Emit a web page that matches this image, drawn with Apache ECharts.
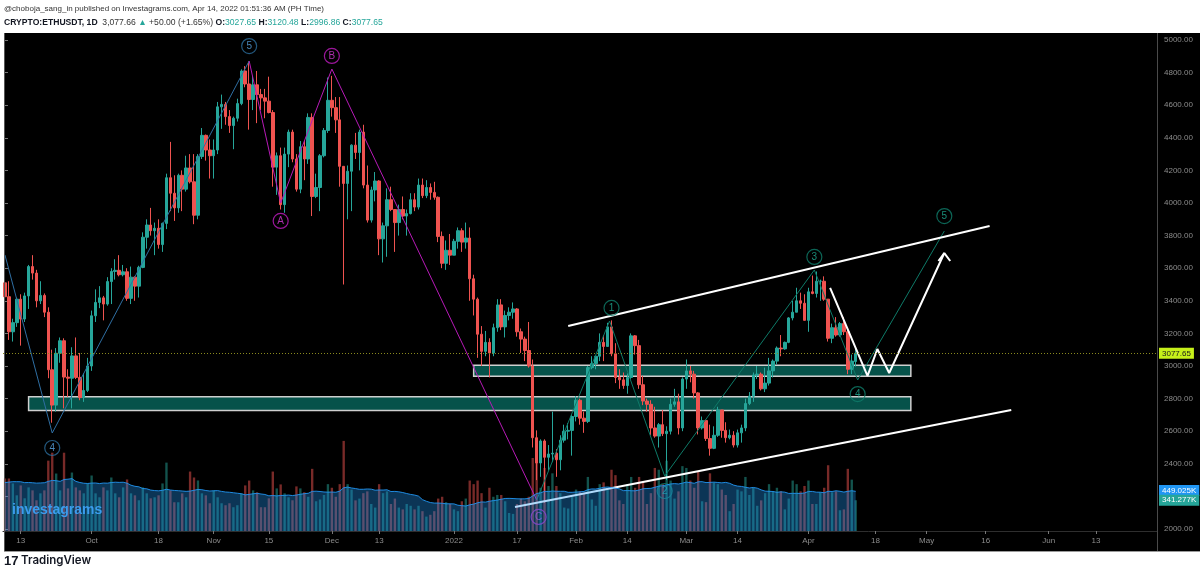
<!DOCTYPE html>
<html><head><meta charset="utf-8">
<script src="https://cdn.jsdelivr.net/npm/echarts@6/dist/echarts.min.js"></script>
<style>html,body{margin:0;padding:0;background:#fff;}#c{width:1200px;height:572px;}</style>
</head><body><div id="c"></div><script>
// ---------------- DATA ----------------
const firstDay = '2021-09-09';
const dayCount = 293; // Sep 9 2021 .. Jun 28 2022 (axis span)

// daily candles [open, high, low, close] from 2021-09-09 to 2022-04-13
const candles = [
// Sep 9-30
[3510,3550,3400,3425],[3425,3520,3160,3210],[3210,3290,3150,3266],[3266,3420,3240,3410],[3410,3440,3125,3288],
[3288,3450,3270,3430],[3430,3620,3350,3610],[3610,3680,3530,3570],[3570,3590,3360,3400],[3400,3520,3380,3433],
[3433,3445,3300,3330],[3330,3360,2925,2977],[2977,3100,2652,2760],[2760,3110,2720,3078],[3078,3175,3020,3155],
[3155,3170,2740,2932],[2932,2980,2810,2925],[2925,3115,2740,3062],[3062,3175,2920,2930],[2930,3080,2790,2806],
[2806,2955,2780,2850],[2850,3050,2840,3000],
// Oct
[3000,3340,2970,3308],[3308,3470,3270,3390],[3390,3490,3355,3418],[3418,3430,3280,3380],[3380,3545,3370,3518],
[3518,3600,3380,3580],[3580,3655,3530,3587],[3587,3680,3550,3560],[3560,3620,3550,3578],[3578,3600,3400,3415],
[3415,3610,3380,3545],[3545,3550,3400,3490],[3490,3615,3420,3605],[3605,3820,3600,3790],[3790,3900,3720,3865],
[3865,3970,3800,3830],[3830,3880,3680,3845],[3845,3900,3720,3745],[3745,3880,3700,3875],[3875,4180,3840,4155],
[4155,4375,3950,4060],[4060,4170,3890,3970],[3970,4180,3940,4170],[4170,4200,3950,4085],[4085,4290,4070,4215],
[4215,4300,4120,4130],[4130,4300,3870,3925],[3925,4300,3900,4285],[4285,4460,4270,4415],[4415,4420,4260,4325],
[4325,4390,4150,4290],
// Nov
[4290,4390,4150,4325],[4325,4620,4300,4590],[4590,4665,4455,4605],[4605,4620,4480,4530],[4530,4570,4430,4475],
[4475,4530,4330,4520],[4520,4640,4500,4610],[4610,4820,4600,4810],[4810,4840,4710,4730],[4730,4868,4450,4635],
[4635,4780,4570,4725],[4725,4810,4490,4665],[4665,4700,4570,4645],[4645,4700,4520,4625],[4625,4775,4550,4555],
[4555,4570,4100,4220],[4220,4310,4050,4290],[4290,4340,3960,3990],[3990,4340,3940,4300],[4300,4450,4220,4435],
[4435,4450,4250,4270],[4270,4300,4070,4085],[4085,4380,4060,4345],[4345,4380,4140,4270],[4270,4550,4240,4525],
[4525,4550,3920,4040],[4040,4180,4030,4095],[4095,4300,3950,4290],[4290,4460,4280,4445],[4445,4770,4430,4630],
// Dec
[4630,4780,4530,4585],[4585,4650,4430,4510],[4510,4650,4100,4225],[4225,4225,3500,4120],[4120,4230,3900,4195],
[4195,4360,3950,4355],[4355,4430,4270,4310],[4310,4450,4200,4435],[4435,4480,4090,4110],[4110,4230,3880,3895],
[3895,4100,3880,4080],[4080,4190,4010,4135],[4135,4140,3680,3780],[3780,3880,3635,3860],[3860,4090,3670,4020],
[4020,4100,3950,3960],[3960,3960,3700,3880],[3880,3990,3800,3960],[3960,4040,3900,3920],[3920,3960,3800,3935],
[3935,4060,3930,4020],[4020,4060,3950,3975],[3975,4150,3960,4110],[4110,4150,4030,4045],[4045,4140,4030,4095],
[4095,4120,4020,4065],[4065,4130,4020,4035],[4035,4040,3760,3795],[3795,3825,3600,3630],[3630,3770,3590,3710],
[3710,3810,3620,3680],
// Jan
[3680,3780,3680,3765],[3765,3850,3720,3830],[3830,3845,3700,3760],[3760,3880,3720,3785],[3785,3850,3400,3535],
[3535,3560,3310,3410],[3410,3420,3050,3195],[3195,3245,3000,3090],[3090,3215,3060,3145],[3145,3170,2930,3080],
[3080,3260,3060,3235],[3235,3410,3210,3375],[3375,3410,3220,3240],[3240,3340,3175,3310],[3310,3360,3280,3330],
[3330,3390,3290,3350],[3350,3355,3180,3210],[3210,3230,3080,3165],[3165,3180,3030,3095],[3095,3270,2990,3000],
[3000,3040,2500,2560],[2560,2605,2300,2405],[2405,2550,2320,2540],[2540,2550,2160,2440],[2440,2515,2360,2460],
[2460,2720,2410,2465],[2465,2490,2320,2425],[2425,2575,2360,2545],[2545,2640,2530,2600],[2600,2650,2550,2605],
[2605,2700,2450,2690],
// Feb
[2690,2815,2660,2790],[2790,2800,2640,2680],[2680,2720,2590,2660],[2660,3000,2650,2990],[2990,3060,2980,3015],
[3015,3060,2980,3060],[3060,3200,3030,3145],[3145,3190,3030,3120],[3120,3265,3120,3240],[3240,3280,3060,3075],
[3075,3140,2895,2930],[2930,2980,2860,2915],[2915,2960,2860,2880],[2880,2955,2830,2930],[2930,3200,2920,3185],
[3185,3190,3070,3125],[3125,3160,2860,2885],[2885,2940,2760,2785],[2785,2800,2720,2765],[2765,2790,2575,2620],
[2620,2750,2560,2570],[2570,2650,2500,2640],[2640,2730,2570,2585],[2585,2630,2300,2600],[2600,2800,2580,2765],
[2765,2860,2750,2780],[2780,2830,2580,2620],[2620,2930,2600,2920],
// Mar
[2920,3040,2860,2970],[2970,3000,2900,2950],[2950,2970,2800,2835],[2835,2840,2580,2620],[2620,2690,2610,2665],
[2665,2670,2540,2555],[2555,2640,2450,2495],[2495,2630,2490,2575],[2575,2750,2565,2730],[2730,2730,2560,2605],
[2605,2655,2530,2560],[2560,2610,2550,2575],[2575,2600,2500,2515],[2515,2610,2500,2590],[2590,2640,2530,2620],
[2620,2800,2600,2770],[2770,2840,2760,2815],[2815,2960,2780,2945],[2945,3000,2920,2950],[2950,2960,2850,2860],
[2860,2990,2840,2895],[2895,3050,2880,2970],[2970,3040,2930,3030],[3030,3120,3010,3110],[3110,3190,3060,3105],
[3105,3150,3100,3145],[3145,3300,3140,3295],[3295,3400,3280,3330],[3330,3480,3330,3400],[3400,3450,3350,3385],
[3385,3440,3280,3280],
// Apr 1-13
[3280,3480,3210,3455],[3455,3555,3440,3445],[3445,3580,3420,3520],[3520,3530,3400,3520],[3520,3550,3400,3410],
[3410,3410,3150,3170],[3170,3260,3140,3235],[3235,3300,3180,3190],[3190,3270,3180,3260],[3260,3300,3190,3210],
[3210,3230,2950,2980],[2980,3070,2950,3030],[3027.65,3120.48,2996.86,3077.65]
];

// daily volume (thousand ETH); the 19 days before Sep 9 only feed the moving average
const volumeBefore = [480,430,400,520,560,460,500,430,380,400,480,650,700,600,460,400,520,1100,700];
const volumes = [
583,583,528,396,506,363,484,451,341,418,451,781,869,638,451,869,473,649,484,451,418,528,
616,418,374,484,451,594,418,374,484,572,418,396,341,484,418,363,374,396,528,759,451,319,319,418,374,660,594,561,418,396,308,
451,374,308,286,308,264,286,420,506,560,451,429,264,264,363,660,473,517,418,374,341,495,473,430,380,690,330,350,400,520,
480,380,520,1000,520,460,340,360,420,440,300,260,520,420,440,300,360,260,240,300,280,240,280,220,160,180,220,360,380,320,300,
240,220,330,360,560,520,560,420,260,480,380,400,400,330,200,190,300,360,330,380,810,760,480,700,500,640,500,420,260,250,380,
460,440,420,600,350,280,520,540,460,680,620,340,300,520,600,480,600,540,300,420,700,680,520,780,560,360,440,720,
700,560,480,660,330,320,640,540,520,460,400,220,300,460,440,600,400,480,280,340,420,520,440,480,440,240,360,560,520,440,500,
560,300,300,430,480,730,430,440,230,240,690,570,341.277
];
const volumeMaPeriod = 20;
const volumeMaLabel = 449.025;
const volumeLastLabel = 341.277;
const lastPrice = 3077.65;

// price axis ticks
const priceMin = 2000, priceMax = 5000, priceStep = 200;

// time axis labels
const tickDates  = ['2021-09-13','2021-10-01','2021-10-18','2021-11-01','2021-11-15','2021-12-01','2021-12-13','2022-01-01','2022-01-17','2022-02-01','2022-02-14','2022-03-01','2022-03-14','2022-04-01','2022-04-18','2022-05-01','2022-05-16','2022-06-01','2022-06-13'];
const tickLabels = ['13','Oct','18','Nov','15','Dec','13','2022','17','Feb','14','Mar','14','Apr','18','May','16','Jun','13'];

// drawings: [date (optional hour), price]
const blueWave    = [['2021-09-09',3681],['2021-09-21',2589],['2021-11-10',4871]];
const magentaWave = [['2021-11-10',4871],['2021-11-18',4000],['2021-12-01',4822],['2022-01-22',2178]];
const tealWave    = [['2022-01-22',2178],['2022-02-09 12',3276],['2022-02-23 12',2325],['2022-04-02 12',3589],['2022-04-13 12',2914],['2022-05-05 12',3828]];
const upperChannel = [['2022-01-30',3245],['2022-05-17',3859]];
const lowerChannel = [['2022-01-16 12',2135],['2022-05-22 12',2730]];
const projection   = [['2022-04-06 12',3479],['2022-04-16',2939],['2022-04-18 12',3104],['2022-04-21 12',2957],['2022-05-05 12',3693]];
const projectionHead = [['2022-05-04',3644],['2022-05-05 12',3693],['2022-05-07',3644]];
// zones: [start date, top price, end date, bottom price]
const zones = [['2022-01-06',3004,'2022-04-27',2937],['2021-09-15',2812,'2022-04-27',2727]];
// wave labels: [text, date, price]
const blueLabels    = [['4','2021-09-21',2497],['5','2021-11-10',4963]];
const magentaLabels = [['A','2021-11-18',3890],['B','2021-12-01',4902],['C','2022-01-22 12',2074]];
const tealLabels    = [['1','2022-02-10',3356],['2','2022-02-23 12',2233],['3','2022-04-02 12',3669],['4','2022-04-13 12',2828],['5','2022-05-05 12',3920]];

// ---------------- BUILD ----------------
const FONT = '"Liberation Sans", Arial, sans-serif';
const [fy, fm, fd] = firstDay.split('-').map(Number);
const T0 = Date.UTC(fy, fm - 1, fd);
function dayIndex(s) {
  const parts = s.split(' ');
  const [Y, M, D] = parts[0].split('-').map(Number);
  return (Date.UTC(Y, M - 1, D) - T0) / 864e5 + (parts[1] ? (+parts[1]) / 24 : 0);
}
const dates = [];
for (let i = 0; i < dayCount; i++) dates.push(new Date(T0 + i * 864e5).toISOString().slice(0, 10));
const tickMap = {};
tickDates.forEach((d, i) => { tickMap[d] = tickLabels[i]; });
const isTick = (idx, val) => tickMap[val] !== undefined;

const UP = '#26a69a', DOWN = '#ef5350';
const candleData = candles.map(r => [r[0], r[3], r[2], r[1]]);
const volData = volumes.map((v, i) => ({
  value: v,
  itemStyle: { color: candles[i][3] >= candles[i][0] ? 'rgba(38,166,154,0.5)' : 'rgba(239,83,80,0.5)' }
}));
const allVol = volumeBefore.concat(volumes);
const maData = volumes.map((v, i) => {
  const end = i + volumeBefore.length;
  let s = 0, n = 0;
  for (let k = Math.max(0, end - volumeMaPeriod + 1); k <= end; k++) { s += allVol[k]; n++; }
  return +(s / n).toFixed(3);
});

function pathSeries(points, color, width, z) {
  return { type: 'line', xAxisIndex: 2, yAxisIndex: 0, silent: true, z: z, clip: false,
    symbol: 'none', showSymbol: false,
    lineStyle: { color: color, width: width },
    data: points.map(p => [dayIndex(p[0]), p[1]]) };
}
function labelSeries(items, border, text) {
  return { type: 'scatter', xAxisIndex: 2, yAxisIndex: 0, silent: true, z: 5, clip: false,
    symbol: 'circle', symbolSize: 15,
    itemStyle: { color: 'rgba(0,0,0,0)', borderColor: border, borderWidth: 1.2 },
    label: { show: true, position: 'inside', formatter: p => p.data.name, color: text, fontSize: 10, fontFamily: FONT },
    data: items.map(it => ({ name: it[0], value: [dayIndex(it[1]), it[2]] })) };
}

const volMax = 1776;
const baseGraphic = [
  { type: 'rect', z: -10, silent: true, shape: { x: 4, y: 33, width: 1196, height: 518 }, style: { fill: '#000000' } },
  { type: 'line', z: 9, silent: true, shape: { x1: 4.5, y1: 33, x2: 4.5, y2: 551 }, style: { stroke: '#555555', lineWidth: 1 } },
  { type: 'line', z: 9, silent: true, shape: { x1: 1157.5, y1: 33, x2: 1157.5, y2: 551 }, style: { stroke: '#4a4a4a', lineWidth: 1 } },
  { type: 'line', z: 9, silent: true, shape: { x1: 4, y1: 551.5, x2: 1200, y2: 551.5 }, style: { stroke: '#9a9a9a', lineWidth: 1 } },
  { type: 'text', z: 20, silent: true, style: { x: 12, y: 510, text: 'investagrams', font: 'bold 14px "Liberation Sans", Arial, sans-serif', fill: '#3b9ced', verticalAlign: 'middle' } },
  { type: 'text', z: 20, silent: true, style: { x: 4, y: 9, text: '@choboja_sang_in published on Investagrams.com, Apr 14, 2022 01:51:36 AM (PH Time)', font: '8px "Liberation Sans", Arial, sans-serif', fill: '#333333', verticalAlign: 'middle' } },
  { type: 'text', z: 20, silent: true, style: { x: 4, y: 23, verticalAlign: 'middle',
    text: '{b|CRYPTO:ETHUSDT, 1D}{n|  3,077.66 }{g|▲}{n| +50.00 (+1.65%) }{b|O:}{g|3027.65}{n| }{b|H:}{g|3120.48}{n| }{b|L:}{g|2996.86}{n| }{b|C:}{g|3077.65}',
    rich: {
      b: { fontSize: 8.6, fontWeight: 'bold', fill: '#131722', fontFamily: FONT },
      n: { fontSize: 8.6, fill: '#333333', fontFamily: FONT },
      g: { fontSize: 8.6, fill: '#26a69a', fontFamily: FONT }
    } } },
  { type: 'text', z: 20, silent: true, style: { x: 4, y: 561, text: '17', font: 'bold 13px "Liberation Sans", Arial, sans-serif', fill: '#131722', verticalAlign: 'middle' } },
  { type: 'text', z: 20, silent: true, style: { x: 21, y: 561, text: 'TradingView', font: '600 11.5px Inter, "Liberation Sans", sans-serif', fill: '#131722', verticalAlign: 'middle' } }
];

const option = {
  animation: false,
  backgroundColor: '#ffffff',
  textStyle: { fontFamily: FONT },
  grid: [
    { left: 3, right: 43, top: 40, bottom: 43 },
    { left: 3, right: 43, top: 371, bottom: 41 }
  ],
  xAxis: [
    { type: 'category', gridIndex: 0, data: dates, show: false },
    { type: 'category', gridIndex: 1, data: dates,
      axisLine: { show: true, lineStyle: { color: '#2e2e2e' } },
      axisTick: { show: true, interval: isTick, alignWithLabel: true, length: 3, lineStyle: { color: '#777' } },
      axisLabel: { interval: isTick, formatter: v => tickMap[v] || '', color: '#8c8c8c', fontSize: 8, margin: 6 },
      splitLine: { show: false } },
    { type: 'value', gridIndex: 0, min: -0.5, max: dayCount - 0.5, show: false }
  ],
  yAxis: [
    { type: 'value', gridIndex: 0, position: 'right', min: priceMin, max: priceMax, interval: priceStep,
      axisLine: { show: false },
      axisTick: { show: true, length: 3, lineStyle: { color: '#777' } },
      axisLabel: { color: '#8c8c8c', fontSize: 8, margin: 7, formatter: v => v.toFixed(2) },
      splitLine: { show: false } },
    { type: 'value', gridIndex: 1, min: 0, max: volMax, show: false }
  ],
  series: [
    { type: 'custom', xAxisIndex: 2, yAxisIndex: 0, z: 1, silent: true, clip: false,
      data: zones.map(b => [dayIndex(b[0]), b[1], dayIndex(b[2]), b[3]]),
      renderItem: (params, api) => {
        const p1 = api.coord([api.value(0), api.value(1)]);
        const p2 = api.coord([api.value(2), api.value(3)]);
        return { type: 'rect', shape: { x: p1[0], y: p1[1], width: p2[0] - p1[0], height: p2[1] - p1[1] },
          style: { fill: '#06524a', stroke: '#cfcfcf', lineWidth: 1.5 } };
      } },
    { type: 'candlestick', xAxisIndex: 0, yAxisIndex: 0, z: 2, silent: true, barWidth: 3,
      data: candleData,
      itemStyle: { color: UP, color0: DOWN, borderColor: UP, borderColor0: DOWN, borderWidth: 1 },
      markLine: { silent: true, symbol: ['none', 'none'], animation: false,
        lineStyle: { color: '#8a8a1e', type: [1, 2], width: 1 },
        label: { show: true, position: 'end', distance: 2, formatter: lastPrice.toFixed(2), color: '#1a1a1a',
          backgroundColor: '#c6f01a', fontSize: 8, padding: [2, 3, 1, 3] },
        data: [{ yAxis: lastPrice }] } },
    { type: 'bar', xAxisIndex: 1, yAxisIndex: 1, z: 2, silent: true, barWidth: '60%', data: volData },
    { type: 'line', xAxisIndex: 1, yAxisIndex: 1, z: 8, silent: true, symbol: 'none', showSymbol: false,
      data: maData,
      lineStyle: { color: 'rgba(33,150,243,0.9)', width: 1 },
      areaStyle: { color: 'rgba(33,150,243,0.5)' } },
    pathSeries(blueWave, '#2f6fa3', 1, 3),
    pathSeries(magentaWave, '#b81ab8', 1, 3),
    pathSeries(tealWave, '#0e7a68', 1, 3),
    pathSeries(upperChannel, '#ffffff', 2, 4),
    pathSeries(lowerChannel, '#ffffff', 2, 4),
    pathSeries(projection, '#ffffff', 2, 4),
    pathSeries(projectionHead, '#ffffff', 2, 4),
    labelSeries(blueLabels, '#2c6e9e', '#5aa8e6'),
    labelSeries(magentaLabels, '#c21bc2', '#d63bd6'),
    labelSeries(tealLabels, '#0f7e6c', '#1fae95')
  ],
  graphic: baseGraphic
};
const chart = echarts.init(document.getElementById('c'));
chart.setOption(option);

// value tags on the volume pane, placed through the volume axis
const axisX = chart.convertToPixel({ gridIndex: 1 }, [0, 0]) ? 1159 : 1159;
function volTag(value, bg) {
  const y = chart.convertToPixel({ yAxisIndex: 1 }, value);
  return { type: 'text', z: 30, silent: true,
    style: { x: axisX, y: y, text: value.toFixed(3) + 'K', fill: '#ffffff', backgroundColor: bg,
      font: '8px "Liberation Sans", Arial, sans-serif', verticalAlign: 'middle', padding: [2, 3, 1, 3] } };
}
chart.setOption({ graphic: baseGraphic.concat([volTag(volumeMaLabel, '#2196f3'), volTag(volumeLastLabel, '#26a69a')]) });
</script></body></html>
